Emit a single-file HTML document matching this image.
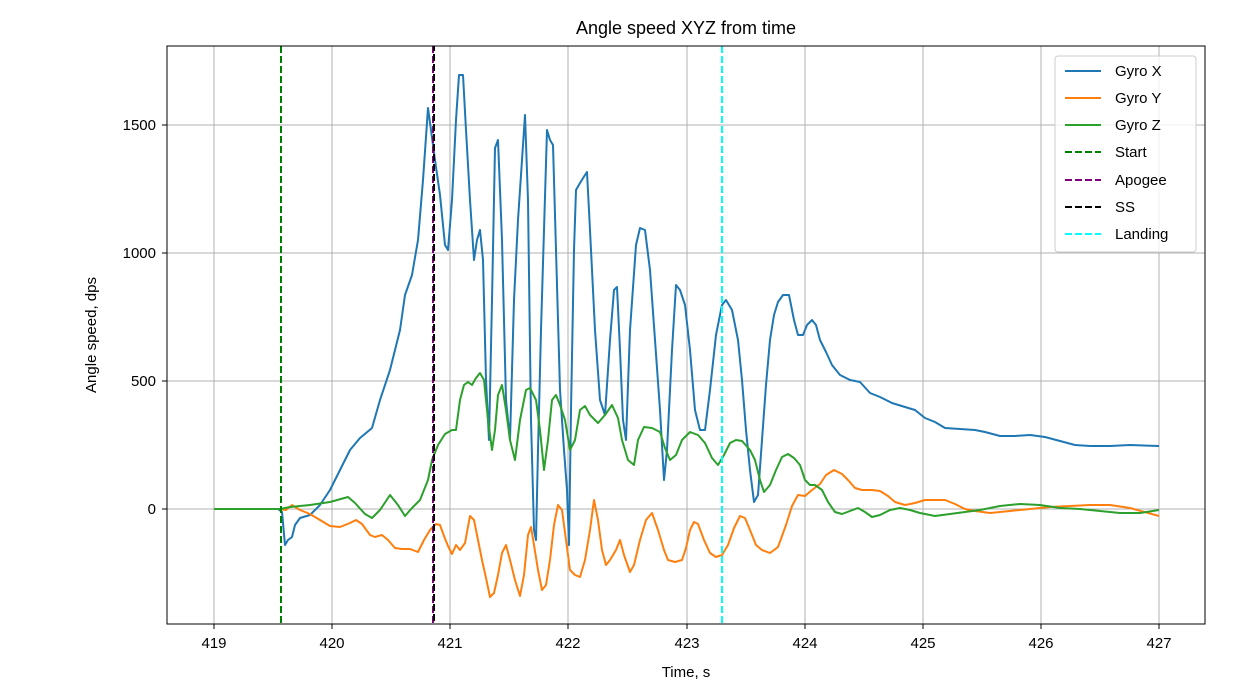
<!DOCTYPE html>
<html><head><meta charset="utf-8"><style>body{margin:0;background:#fff}svg{display:block;font-family:"Liberation Sans","DejaVu Sans",sans-serif}</style></head><body>
<svg width="1246" height="693" viewBox="0 0 1246 693">
<rect width="1246" height="693" fill="#fff"/>
<g stroke="#b0b0b0" stroke-width="1">
<line x1="214" y1="46" x2="214" y2="624"/><line x1="332" y1="46" x2="332" y2="624"/><line x1="450" y1="46" x2="450" y2="624"/><line x1="568" y1="46" x2="568" y2="624"/><line x1="687" y1="46" x2="687" y2="624"/><line x1="805" y1="46" x2="805" y2="624"/><line x1="923" y1="46" x2="923" y2="624"/><line x1="1041" y1="46" x2="1041" y2="624"/><line x1="1159" y1="46" x2="1159" y2="624"/>
<line x1="167" y1="509" x2="1205" y2="509"/><line x1="167" y1="381" x2="1205" y2="381"/><line x1="167" y1="253" x2="1205" y2="253"/><line x1="167" y1="125" x2="1205" y2="125"/>
</g>
<g fill="none" stroke-width="2" stroke-linejoin="round">
<polyline stroke="#1f77b4" points="214,509 278,509 282,512 285,545 288,540 292,537 295,525 300,518 310,515 320,505 330,490 340,470 350,450 360,438 372,428 380,400 390,370 400,330 405,295 412,275 418,240 423,180 428,108 431,130 435,160 440,195 445,245 448,250 452,200 456,120 459,75 463,75 466,130 470,200 474,260 477,240 480,230 483,260 486,380 489,440 492,300 495,148 498,140 502,240 506,400 510,440 514,300 518,220 522,160 525,115 528,200 531,420 534,530 536,540 538,450 541,330 544,230 547,130 550,140 553,145 556,250 560,390 564,450 567,490 569,545 571,410 574,250 576,190 580,183 585,175 587,172 590,230 595,330 600,400 605,415 610,340 614,290 617,287 620,350 623,420 626,440 630,330 636,245 640,228 645,230 650,270 655,340 660,410 664,480 667,450 672,350 676,285 680,290 685,305 690,350 695,410 700,430 705,430 710,390 716,335 722,305 726,300 732,310 738,340 742,380 746,430 750,470 754,502 758,495 762,440 766,385 770,340 774,315 778,302 783,295 789,295 794,320 798,335 803,335 807,325 812,320 816,325 820,340 826,352 832,365 840,375 850,380 860,382 870,393 880,397 892,403 905,407 915,410 925,418 935,422 945,428 960,429 975,430 985,432 1000,436 1015,436 1030,435 1045,437 1060,441 1075,445 1090,446 1110,446 1130,445 1159,446"/>
<polyline stroke="#ff7f0e" points="214,509 280,509 286,510 292,505 300,510 310,514 320,520 330,526 340,527 350,523 356,520 362,524 370,535 375,537 382,535 388,540 395,548 402,549 410,549 418,552 424,540 430,530 436,524 440,525 444,536 448,546 452,554 456,545 460,550 465,543 470,516 474,520 478,540 482,560 486,578 490,597 494,593 498,575 502,553 506,545 510,560 515,580 520,596 524,575 528,535 531,527 534,545 538,570 542,590 546,585 550,560 554,525 558,505 562,510 566,540 570,570 575,575 580,577 585,560 590,530 594,500 598,520 602,550 606,565 610,560 616,550 620,540 624,555 630,572 634,565 640,540 646,520 652,513 658,530 664,550 668,560 675,562 682,560 686,548 690,530 694,522 698,524 704,540 710,553 716,557 722,555 728,545 734,528 740,516 745,518 750,530 756,545 762,550 770,553 778,547 786,525 792,506 798,495 805,496 812,490 820,484 826,475 834,470 842,474 848,480 855,488 862,490 872,490 880,491 888,496 895,502 905,505 915,503 925,500 935,500 945,500 955,504 965,509 975,511 990,513 1010,511 1030,509 1050,507 1070,506 1090,505 1110,505 1130,508 1159,516"/>
<polyline stroke="#2ca02c" points="214,509 280,509 290,507 310,505 330,502 348,497 355,503 365,514 372,518 380,510 390,495 398,505 405,516 412,508 420,500 428,480 432,460 438,445 445,434 452,430 456,430 460,400 464,385 468,382 472,385 476,378 480,373 484,380 488,420 492,450 495,430 498,395 502,385 506,410 510,440 515,460 520,420 526,390 530,388 536,400 540,430 544,470 548,440 552,400 556,395 560,405 565,420 570,450 575,440 580,410 585,406 590,415 598,423 605,415 612,405 618,418 622,440 628,460 634,465 638,440 644,427 652,428 660,432 665,448 670,460 676,455 682,440 690,432 698,435 705,443 712,458 718,465 724,455 730,443 736,440 742,441 750,450 755,460 760,480 764,492 770,485 776,470 782,457 788,454 794,458 800,465 805,480 810,485 815,485 822,490 828,502 835,512 842,514 850,511 858,508 865,512 872,517 880,515 890,510 900,508 910,510 920,513 935,516 950,514 965,512 980,510 1000,506 1020,504 1040,505 1060,508 1080,509 1100,511 1120,513 1140,513 1159,510"/>
</g>
<g stroke-width="2" stroke-dasharray="7,3">
<line x1="281" y1="46" x2="281" y2="624" stroke="#008000"/>
<line x1="433" y1="46" x2="433" y2="624" stroke="#800080"/>
<line x1="434" y1="46" x2="434" y2="624" stroke="#000" stroke-dashoffset="2"/>
<line x1="722" y1="46" x2="722" y2="624" stroke="#00ffff"/>
</g>
<rect x="167" y="46" width="1038" height="578" fill="none" stroke="#000" stroke-width="1"/>
<g stroke="#000"><line x1="214" y1="624" x2="214" y2="629"/><line x1="332" y1="624" x2="332" y2="629"/><line x1="450" y1="624" x2="450" y2="629"/><line x1="568" y1="624" x2="568" y2="629"/><line x1="687" y1="624" x2="687" y2="629"/><line x1="805" y1="624" x2="805" y2="629"/><line x1="923" y1="624" x2="923" y2="629"/><line x1="1041" y1="624" x2="1041" y2="629"/><line x1="1159" y1="624" x2="1159" y2="629"/>
<line x1="162" y1="509" x2="167" y2="509"/><line x1="162" y1="381" x2="167" y2="381"/><line x1="162" y1="253" x2="167" y2="253"/><line x1="162" y1="125" x2="167" y2="125"/></g>
<g font-size="15" fill="#000" text-anchor="middle">
<text x="214" y="648">419</text><text x="332" y="648">420</text><text x="450" y="648">421</text><text x="568" y="648">422</text><text x="687" y="648">423</text><text x="805" y="648">424</text><text x="923" y="648">425</text><text x="1041" y="648">426</text><text x="1159" y="648">427</text>
<text x="686" y="677">Time, s</text>
<text x="686" y="34" font-size="18">Angle speed XYZ from time</text>
<text transform="translate(96,335) rotate(-90)">Angle speed, dps</text>
</g>
<g font-size="15" text-anchor="end"><text x="156" y="514">0</text><text x="156" y="386">500</text><text x="156" y="258">1000</text><text x="156" y="130">1500</text></g>
<rect x="1055" y="56" width="141" height="196" rx="3" fill="#fff" fill-opacity="0.8" stroke="#ccc"/>
<g stroke-width="2">
<line x1="1065" y1="71" x2="1101" y2="71" stroke="#1f77b4"/>
<line x1="1065" y1="98" x2="1101" y2="98" stroke="#ff7f0e"/>
<line x1="1065" y1="125" x2="1101" y2="125" stroke="#2ca02c"/>
<g stroke-dasharray="7,3"><line x1="1065" y1="152" x2="1101" y2="152" stroke="#008000"/>
<line x1="1065" y1="180" x2="1101" y2="180" stroke="#800080"/>
<line x1="1065" y1="207" x2="1101" y2="207" stroke="#000"/>
<line x1="1065" y1="234" x2="1101" y2="234" stroke="#00ffff"/></g>
</g>
<g font-size="15"><text x="1115" y="76">Gyro X</text><text x="1115" y="103">Gyro Y</text><text x="1115" y="130">Gyro Z</text><text x="1115" y="157">Start</text><text x="1115" y="185">Apogee</text><text x="1115" y="212">SS</text><text x="1115" y="239">Landing</text></g>
</svg>
</body></html>
